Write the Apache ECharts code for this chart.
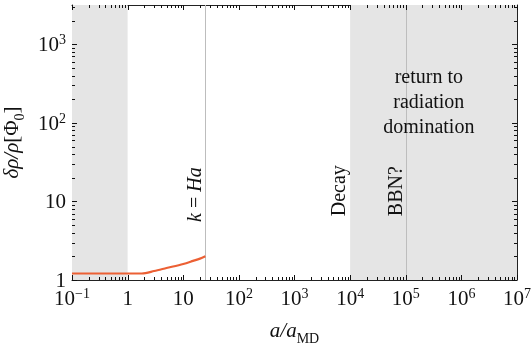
<!DOCTYPE html>
<html><head><meta charset="utf-8">
<script src="https://cdn.jsdelivr.net/npm/echarts@6/dist/echarts.min.js"></script>
<style>html,body{margin:0;padding:0;background:#fff}#c{width:531px;height:344px}</style>
</head><body><div id="c"></div>
<script>
const xValues = [0.1, 0.5, 1, 1.8, 3, 5, 10, 15, 20, 25];
const yValues = [1.21, 1.21, 1.21, 1.21, 1.3, 1.42, 1.6, 1.75, 1.87, 2.0];
const xRange = [0.1, 1e7];
const yRange = [1, 3162.28];
const xDecades = [0.1, 1, 10, 100, 1e3, 1e4, 1e5, 1e6, 1e7];
const yDecades = [1, 10, 100, 1000];
const minorMultipliers = [2, 3, 4, 5, 6, 7, 8, 9];
const shadedRegions = [[0.1, 1], [1e4, 1e7]];
const vLines = [25, 1e5];
const annotations = [
  {x: 17, y: 12.2, text: '{i|k} = {i|Ha}', rotate: 90},
  {x: 6600, y: 13.7, text: 'Decay', rotate: 90},
  {x: 70000, y: 13.5, text: 'BBN?', rotate: 90},
  {x: 260000, y: 182, text: 'return to\nradiation\ndomination', rotate: 0}
];

const FONT = '"Liberation Serif","DejaVu Serif",serif';
function fmt(v) {
  const e = Math.log10(v);
  if (Math.abs(e - Math.round(e)) > 1e-6) return '';
  const n = Math.round(e);
  if (n === 0) return '{b|1}';
  if (n === 1) return '{b|10}';
  return '{b|10}{s|' + (n < 0 ? '\u2212' + (-n) : n) + '}';
}
const richTick = {
  b: {fontFamily: FONT, fontSize: 21, color: '#111', verticalAlign: 'bottom', lineHeight: 24},
  s: {fontFamily: FONT, fontSize: 14, color: '#111', verticalAlign: 'bottom', padding: [0, 0, 9, 0], lineHeight: 24}
};
const axisLine = {show: true, lineStyle: {color: '#222', width: 1}};

const xMinor = [];
xDecades.forEach(d => minorMultipliers.forEach(m => { if (d * m < xRange[1]) xMinor.push(d * m); }));
const yMinor = [];
yDecades.forEach(d => minorMultipliers.forEach(m => { if (d * m < yRange[1]) yMinor.push(d * m); }));

const MAJOR_LEN = 5, MINOR_LEN = 3;
const TICK_STYLE = {stroke: '#111', lineWidth: 1};
// draws the frame ticks (major at decades, minor at 2..9) on all four sides via the axes' scales
function tickX(params, api) {
  const v = api.value(0);
  const len = api.value(2) ? MAJOR_LEN : MINOR_LEN;
  const pb = api.coord([v, yRange[0]]);
  const pt = api.coord([v, yRange[1]]);
  const x = Math.round(pb[0]) + 0.5;
  return {type: 'group', children: [
    {type: 'line', shape: {x1: x, y1: pb[1], x2: x, y2: pb[1] - len}, style: TICK_STYLE},
    {type: 'line', shape: {x1: x, y1: pt[1], x2: x, y2: pt[1] + len}, style: TICK_STYLE}
  ]};
}
function tickY(params, api) {
  const v = api.value(1);
  const len = api.value(2) ? MAJOR_LEN : MINOR_LEN;
  const pl = api.coord([xRange[0], v]);
  const pr = api.coord([xRange[1], v]);
  const y = Math.round(pl[1]) + 0.5;
  return {type: 'group', children: [
    {type: 'line', shape: {x1: pl[0], y1: y, x2: pl[0] + len, y2: y}, style: TICK_STYLE},
    {type: 'line', shape: {x1: pr[0], y1: y, x2: pr[0] - len, y2: y}, style: TICK_STYLE}
  ]};
}

const chart = echarts.init(document.getElementById('c'), null, {renderer: 'canvas'});
chart.setOption({
  animation: false,
  backgroundColor: '#fff',
  grid: {left: 72, right: 14, top: 5, bottom: 64, outerBoundsMode: 'none'},
  xAxis: [{
    type: 'log', logBase: 10, min: xRange[0], max: xRange[1], position: 'bottom',
    axisLine, axisTick: {show: false}, splitLine: {show: false},
    axisLabel: {formatter: fmt, rich: richTick, margin: 6, showMaxLabel: true},
    name: '{i|a/a}{sub|MD}', nameLocation: 'middle', nameGap: 38,
    nameTextStyle: {rich: {
      i: {fontFamily: FONT, fontStyle: 'italic', fontSize: 21, color: '#111', verticalAlign: 'bottom', lineHeight: 24},
      sub: {fontFamily: FONT, fontSize: 14, color: '#111', verticalAlign: 'bottom', padding: [0, 0, -4, 0], lineHeight: 24}
    }}
  }, {
    type: 'log', logBase: 10, min: xRange[0], max: xRange[1], position: 'top',
    axisLine, axisTick: {show: false}, splitLine: {show: false},
    axisLabel: {show: false}
  }],
  yAxis: [{
    type: 'log', logBase: 10, min: yRange[0], max: yRange[1], position: 'left',
    axisLine, axisTick: {show: false}, splitLine: {show: false},
    axisLabel: {formatter: fmt, rich: richTick, margin: 6},
    name: '{i|\u03b4\u03c1/\u03c1}{n|[\u03a6}{sub|0}{n|]}', nameLocation: 'middle', nameGap: 41, nameRotate: 90,
    nameTextStyle: {rich: {
      i: {fontFamily: FONT, fontStyle: 'italic', fontSize: 21, color: '#111', verticalAlign: 'bottom', lineHeight: 24},
      n: {fontFamily: FONT, fontSize: 21, color: '#111', verticalAlign: 'bottom', lineHeight: 24},
      sub: {fontFamily: FONT, fontSize: 14, color: '#111', verticalAlign: 'bottom', padding: [0, 0, -4, 0], lineHeight: 24}
    }}
  }, {
    type: 'log', logBase: 10, min: yRange[0], max: yRange[1], position: 'right',
    axisLine, axisTick: {show: false}, splitLine: {show: false},
    axisLabel: {show: false}
  }],
  series: [{
    type: 'line', xAxisIndex: 0, yAxisIndex: 0,
    data: xValues.map((x, i) => [x, yValues[i]]),
    showSymbol: false, smooth: 0.3,
    lineStyle: {color: '#ec6034', width: 2.2},
    z: 5,
    markArea: {
      silent: true,
      itemStyle: {color: '#e5e5e5'},
      data: shadedRegions.map(r => [{xAxis: r[0]}, {xAxis: r[1]}])
    },
    markLine: {
      silent: true, symbol: 'none', label: {show: false},
      lineStyle: {color: '#bdbdbd', width: 1, type: 'solid'},
      data: vLines.map(v => ({xAxis: v}))
    },
    markPoint: {
      silent: true, symbol: 'circle', symbolSize: 0,
      data: annotations.map(a => ({
        coord: [a.x, a.y],
        label: {
          show: true, position: 'inside', formatter: a.text, rotate: a.rotate,
          fontFamily: FONT, fontSize: 20, color: '#111', lineHeight: 25, align: 'center',
          rich: {i: {fontFamily: FONT, fontStyle: 'italic', fontSize: 20, color: '#111'}}
        }
      }))
    }
  }, {
    type: 'custom', xAxisIndex: 0, yAxisIndex: 0, silent: true, z: 20, clip: false,
    renderItem: tickX,
    data: xDecades.map(v => [v, yRange[0], 1]).concat(xMinor.map(v => [v, yRange[0], 0]))
  }, {
    type: 'custom', xAxisIndex: 0, yAxisIndex: 0, silent: true, z: 20, clip: false,
    renderItem: tickY,
    data: yDecades.map(v => [xRange[0], v, 1]).concat(yMinor.map(v => [xRange[0], v, 0]))
  }]
});
</script></body></html>
